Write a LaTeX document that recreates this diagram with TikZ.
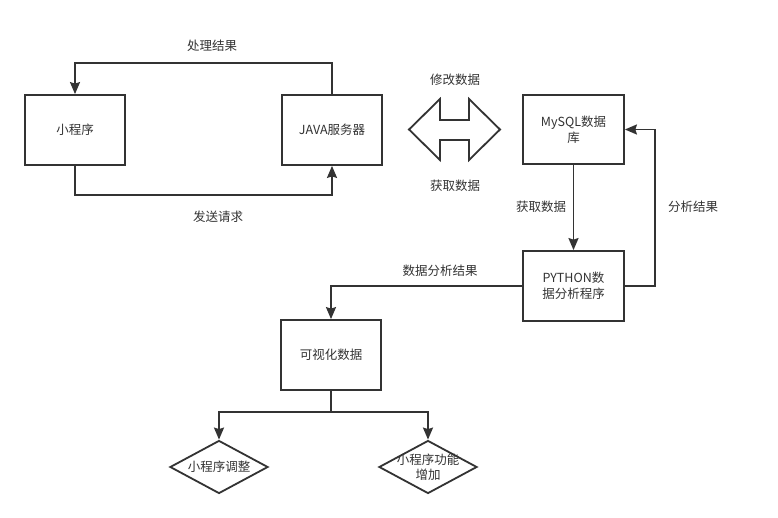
\documentclass[tikz,border=0pt]{standalone}
\usepackage{fontspec}
\setmainfont{Noto Sans CJK SC}
\usetikzlibrary{shapes.geometric,arrows.meta}
\definecolor{ln}{HTML}{333333}
\begin{document}
\begin{tikzpicture}[x=1pt,y=-1pt,
  font=\fontsize{12.5}{16}\selectfont,
  every node/.style={text=ln},
  box/.style={draw=ln,line width=1.8pt,minimum width=100pt,minimum height=70pt,inner sep=2pt,align=center,text width=66pt},
  dia/.style={diamond,draw=ln,line width=1.8pt,minimum width=98pt,minimum height=53pt,inner sep=0pt,aspect=1.85},
  conn/.style={draw=ln,line width=1.8pt},
  arr/.style={conn,-{Stealth[length=12pt,width=10pt,inset=1.5pt]}},
  lbl/.style={inner sep=1pt}]
\useasboundingbox (0,0) rectangle (778,518);
\fill[white] (0,0) rectangle (778,518);
\node[box] (mp) at (75,130) {小程序};
\node[box,text width=80pt] (java) at (332,130) {JAVA服务器};
\node[box,minimum width=101pt,minimum height=69pt] (mysql) at (573.5,129.5) {MySQL数据\\库};
\node[box,minimum width=101pt] (py) at (573.5,286) {PYTHON数\\据分析程序};
\node[box] (vis) at (331,355) {可视化数据};
\node[dia,label={[text=ln,align=center]center:小程序调整}] (d1) at (219,467) {};
\node[dia,label={[text=ln,align=center,font=\fontsize{12.5}{15}\selectfont]center:小程序功能\\增加}] (d2) at (428,467) {};
% double arrow
\draw[ln,line width=1.8pt,line join=miter] (409,129.5) -- (440,99) -- (440,120) -- (469,120) -- (469,99) -- (500,129.5) -- (469,160) -- (469,140) -- (440,140) -- (440,160) -- cycle;
% connectors
\draw[arr] (java.north) -- ++(0,-31) -| (mp.north);
\draw[arr] (mp.south) -- ++(0,29) -| (java.south);
\draw[arr] (mysql.south) -- (py.north);
\draw[arr] (py.east) -- ++(30,0) |- (mysql.east);
\draw[arr] (py.west) -| (vis.north);
\draw[conn] (vis.south) -- ++(0,21) coordinate (split);
\draw[arr] (split) -| (d1.north);
\draw[arr] (split) -| (d2.north);
% labels
\node[lbl] (l1) at (212,46) {处理结果};
\node[lbl] (l2) at (218,217) {发送请求};
\node[lbl] (l3) at (455,80) {修改数据};
\node[lbl] (l4) at (455,186) {获取数据};
\node[lbl] (l5) at (541,207) {获取数据};
\node[lbl] (l6) at (693,207) {分析结果};
\node[lbl] (l7) at (440,271) {数据分析结果};
\end{tikzpicture}
\end{document}
